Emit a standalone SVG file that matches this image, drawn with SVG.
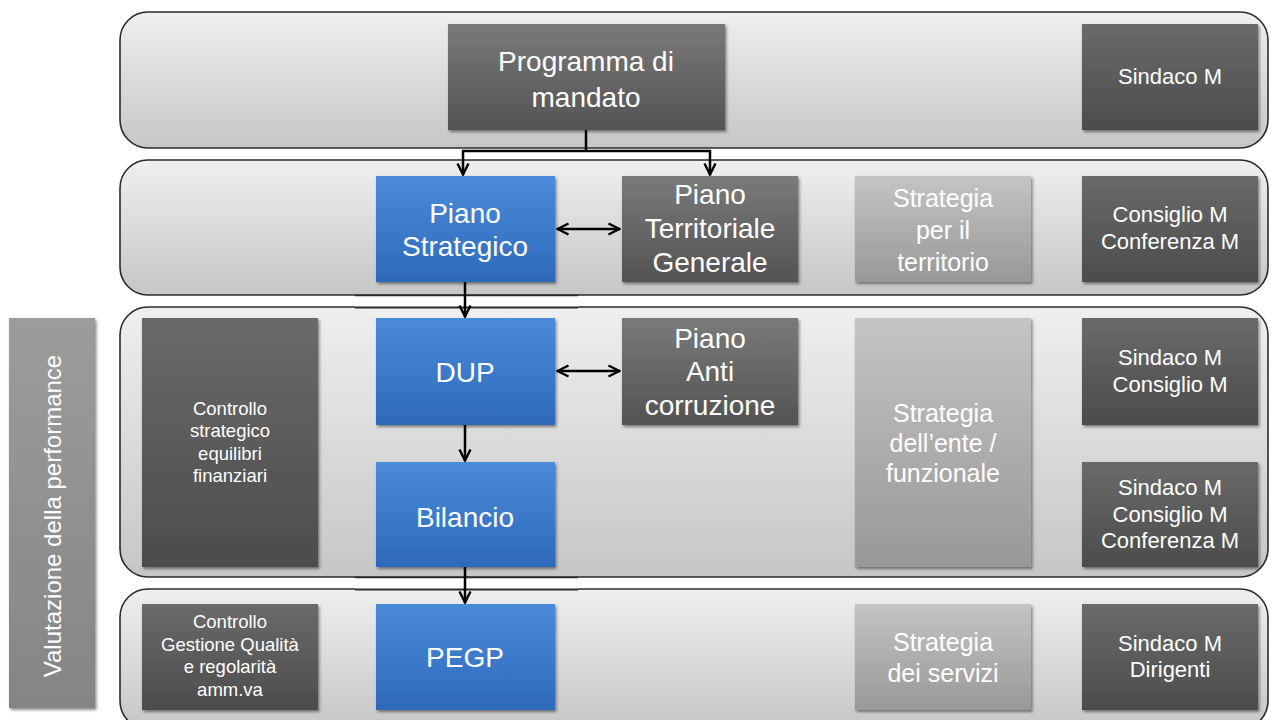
<svg xmlns="http://www.w3.org/2000/svg" width="1271" height="720" viewBox="0 0 1271 720">
<defs>
<linearGradient id="gBand" x1="0" y1="0" x2="0" y2="1"><stop offset="0" stop-color="#efefef"/><stop offset="1" stop-color="#c6c6c6"/></linearGradient>
<linearGradient id="gDark" x1="0" y1="0" x2="0" y2="1"><stop offset="0" stop-color="#7a7a7a"/><stop offset="1" stop-color="#535353"/></linearGradient>
<linearGradient id="gDarker" x1="0" y1="0" x2="0" y2="1"><stop offset="0" stop-color="#6a6a6a"/><stop offset="1" stop-color="#4c4c4c"/></linearGradient>
<linearGradient id="gBlue" x1="0" y1="0" x2="0" y2="1"><stop offset="0" stop-color="#4b8bd9"/><stop offset="1" stop-color="#2e69bb"/></linearGradient>
<linearGradient id="gLight" x1="0" y1="0" x2="0" y2="1"><stop offset="0" stop-color="#c4c4c4"/><stop offset="1" stop-color="#989898"/></linearGradient>
<linearGradient id="gMid" x1="0" y1="0" x2="0" y2="1"><stop offset="0" stop-color="#9c9c9c"/><stop offset="1" stop-color="#858585"/></linearGradient>
<filter id="sh" x="-10%" y="-10%" width="125%" height="125%"><feDropShadow dx="1.5" dy="2" stdDeviation="1.5" flood-color="#000" flood-opacity="0.45"/></filter>
<marker id="ah" viewBox="0 0 14 14" refX="13" refY="7" markerWidth="14" markerHeight="14" markerUnits="userSpaceOnUse" orient="auto-start-reverse"><path d="M1.5,1.5 L12.5,7 L1.5,12.5" fill="none" stroke="#000" stroke-width="2.4"/></marker>
<style>
.band{fill:url(#gBand);stroke:#2b2b2b;stroke-width:1.6}
.dark{fill:url(#gDark);filter:url(#sh)}
.darker{fill:url(#gDarker);filter:url(#sh)}
.blue{fill:url(#gBlue);filter:url(#sh)}
.light{fill:url(#gLight);filter:url(#sh)}
.mid{fill:url(#gMid);filter:url(#sh)}
text{font-family:"Liberation Sans",Arial,sans-serif;fill:#fff;text-anchor:middle}
.big{font-size:28px}
.med{font-size:25px}
.sm{font-size:22px}
.xs{font-size:18.5px}
.con{fill:none;stroke:#000;stroke-width:2.5}
</style>
</defs>
<rect width="1271" height="720" fill="#fff"/>
<g id="bands">
<rect class="band" x="120" y="12" width="1148" height="136" rx="28"/>
<rect class="band" x="120" y="160" width="1148" height="135" rx="28"/>
<rect class="band" x="120" y="307" width="1148" height="270" rx="28"/>
<rect class="band" x="120" y="589" width="1148" height="140" rx="28"/>
</g>
<g id="gaps">
<rect x="355" y="295" width="223" height="12.5" fill="#fff"/>
<line x1="355" y1="295.5" x2="578" y2="295.5" stroke="#2b2b2b" stroke-width="1.6"/>
<line x1="355" y1="307.5" x2="578" y2="307.5" stroke="#2b2b2b" stroke-width="2"/>
<rect x="355" y="577" width="223" height="12.5" fill="#fff"/>
<line x1="355" y1="577.5" x2="578" y2="577.5" stroke="#2b2b2b" stroke-width="1.6"/>
<line x1="355" y1="589.5" x2="578" y2="589.5" stroke="#2b2b2b" stroke-width="2"/>
</g>
<g id="valutazione"><rect class="mid" x="9" y="318" width="86" height="390"/><text transform="translate(61,516) rotate(-90)" style="font-size:24px">Valutazione della performance</text></g>
<g id="programma"><rect class="dark" x="448" y="24" width="277" height="106"/><text class="big" x="586" y="71">Programma di<tspan x="586" dy="36">mandato</tspan></text></g>
<g id="sindaco1"><rect class="darker" x="1082" y="24" width="176" height="106"/><text class="sm" x="1170" y="84">Sindaco M</text></g>
<g id="pianoStrategico"><rect class="blue" x="376" y="176" width="179" height="106"/><text class="big" x="465" y="223">Piano<tspan x="465" dy="33">Strategico</tspan></text></g>
<g id="pianoTerritoriale"><rect class="dark" x="622" y="176" width="176" height="106"/><text class="big" x="710" y="204">Piano<tspan x="710" dy="34">Territoriale</tspan><tspan x="710" dy="34">Generale</tspan></text></g>
<g id="strategiaTerritorio"><rect class="light" x="855" y="176" width="176" height="106"/><text class="med" x="943" y="207">Strategia<tspan x="943" dy="32">per il</tspan><tspan x="943" dy="32">territorio</tspan></text></g>
<g id="consiglio1"><rect class="darker" x="1082" y="176" width="176" height="106"/><text class="sm" x="1170" y="222">Consiglio M<tspan x="1170" dy="27">Conferenza M</tspan></text></g>
<g id="controlloStrategico"><rect class="darker" x="142" y="318" width="176" height="249"/><text class="xs" x="230" y="415">Controllo<tspan x="230" dy="22">strategico</tspan><tspan x="230" dy="23">equilibri</tspan><tspan x="230" dy="22">finanziari</tspan></text></g>
<g id="dup"><rect class="blue" x="376" y="318" width="179" height="107"/><text class="big" x="465" y="382">DUP</text></g>
<g id="pianoAnti"><rect class="dark" x="622" y="318" width="176" height="107"/><text class="big" x="710" y="348">Piano<tspan x="710" dy="33">Anti</tspan><tspan x="710" dy="34">corruzione</tspan></text></g>
<g id="strategiaEnte"><rect class="light" x="855" y="318" width="176" height="249"/><text class="med" x="943" y="422">Strategia<tspan x="943" dy="30">dell’ente /</tspan><tspan x="943" dy="30">funzionale</tspan></text></g>
<g id="sindaco2"><rect class="darker" x="1082" y="318" width="176" height="107"/><text class="sm" x="1170" y="365">Sindaco M<tspan x="1170" dy="27">Consiglio M</tspan></text></g>
<g id="bilancio"><rect class="blue" x="376" y="462" width="179" height="105"/><text class="big" x="465" y="527">Bilancio</text></g>
<g id="sindaco3"><rect class="darker" x="1082" y="462" width="176" height="105"/><text class="sm" x="1170" y="495">Sindaco M<tspan x="1170" dy="27">Consiglio M</tspan><tspan x="1170" dy="26">Conferenza M</tspan></text></g>
<g id="controlloGestione"><rect class="darker" x="142" y="604" width="176" height="106"/><text class="xs" x="230" y="628">Controllo<tspan x="230" dy="23">Gestione Qualità</tspan><tspan x="230" dy="22">e regolarità</tspan><tspan x="230" dy="23">amm.va</tspan></text></g>
<g id="pegp"><rect class="blue" x="376" y="604" width="179" height="106"/><text class="big" x="465" y="667">PEGP</text></g>
<g id="strategiaServizi"><rect class="light" x="855" y="604" width="176" height="106"/><text class="med" x="943" y="651">Strategia<tspan x="943" dy="31">dei servizi</tspan></text></g>
<g id="sindaco4"><rect class="darker" x="1082" y="604" width="176" height="106"/><text class="sm" x="1170" y="651">Sindaco M<tspan x="1170" dy="26">Dirigenti</tspan></text></g>
<g id="connectors">
<path class="con" d="M586,130 V151"/>
<path class="con" d="M586,151 H463 V175" marker-end="url(#ah)"/>
<path class="con" d="M586,151 H710 V175" marker-end="url(#ah)"/>
<path class="con" d="M557,229 H620" marker-start="url(#ah)" marker-end="url(#ah)"/>
<path class="con" d="M465,282 V317" marker-end="url(#ah)"/>
<path class="con" d="M557,371 H620" marker-start="url(#ah)" marker-end="url(#ah)"/>
<path class="con" d="M465,425 V461" marker-end="url(#ah)"/>
<path class="con" d="M465,567 V603" marker-end="url(#ah)"/>
</g>
</svg>
